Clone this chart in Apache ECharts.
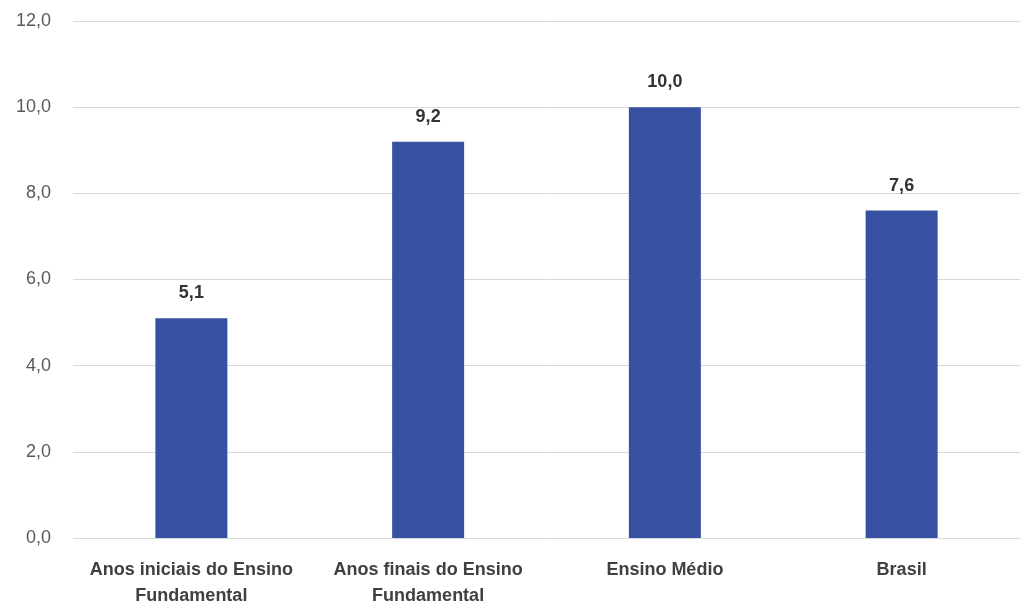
<!DOCTYPE html>
<html>
<head>
<meta charset="utf-8">
<script src="https://cdn.jsdelivr.net/npm/echarts@6/dist/echarts.min.js"></script>
<style>html,body{margin:0;padding:0;background:#fff}#c{width:1020px;height:603px}</style>
</head>
<body>
<div id="c"></div>
<script>
const categories = ["Anos iniciais do Ensino\nFundamental", "Anos finais do Ensino\nFundamental", "Ensino Médio", "Brasil"];
const values = [5.1, 9.2, 10.0, 7.6];
const yTicks = [0, 2, 4, 6, 8, 10, 12];

const fmt = v => v.toFixed(1).replace('.', ',');
const chart = echarts.init(document.getElementById('c'));
chart.setOption({
  animation: false,
  grid: { left: 73, right: 0, top: 21, bottom: 65, containLabel: false, outerBoundsMode: 'none' },
  xAxis: {
    type: 'category',
    data: categories,
    axisLine: { show: false },
    axisTick: { show: false },
    axisLabel: {
      interval: 0,
      margin: 19,
      color: '#404040',
      fontFamily: 'Liberation Sans',
      fontWeight: 'bold',
      fontSize: 18,
      lineHeight: 26
    }
  },
  yAxis: {
    type: 'value',
    min: yTicks[0],
    max: yTicks[yTicks.length - 1],
    interval: 2,
    axisLine: { show: false },
    axisTick: { show: false },
    splitLine: { lineStyle: { color: '#d9d9d9', width: 1 } },
    axisLabel: {
      margin: 22,
      color: '#595959',
      fontFamily: 'Liberation Sans',
      fontSize: 18,
      formatter: v => fmt(v)
    }
  },
  series: [{
    type: 'bar',
    data: values,
    barWidth: 72,
    itemStyle: { color: '#3751a2' },
    label: {
      show: true,
      position: 'top',
      distance: 16,
      color: '#333333',
      fontFamily: 'Liberation Sans',
      fontWeight: 'bold',
      fontSize: 18,
      formatter: p => fmt(p.value)
    }
  }]
});
</script>
</body>
</html>
